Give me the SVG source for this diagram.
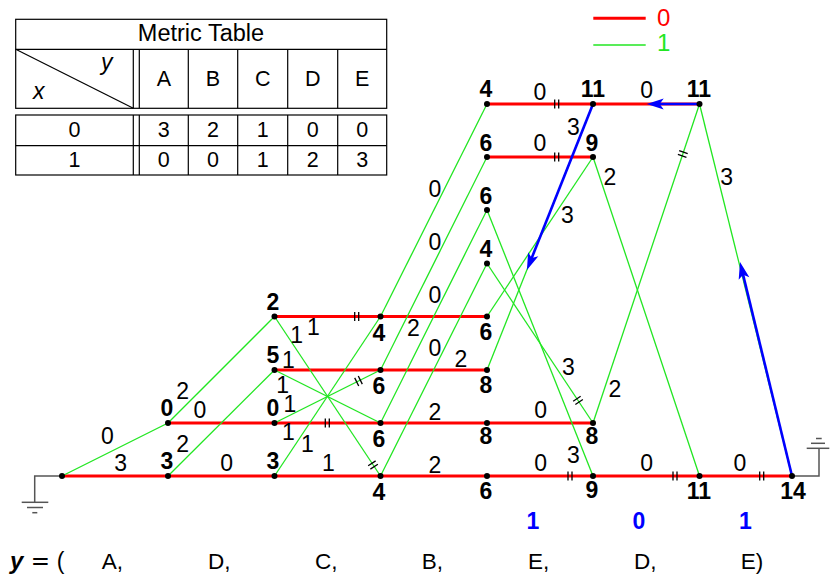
<svg xmlns="http://www.w3.org/2000/svg" width="831" height="574" viewBox="0 0 831 574">
<style>
.tb{fill:none;stroke:#000;stroke-width:1.2}
.tt{font:21.5px "Liberation Sans",Arial,sans-serif;text-anchor:middle;fill:#000}
.ti{font:italic 23px "Liberation Sans",Arial,sans-serif;fill:#000}
.r{stroke:#ff0000;stroke-width:3;fill:none}
.g{stroke:#22e622;stroke-width:1.3;fill:none}
.b{stroke:#0000ff;stroke-width:2.6;fill:none;marker-end:url(#ah)}
.gr{stroke:#555;stroke-width:1.5;fill:none}
.v{font:bold 23px "Liberation Sans",Arial,sans-serif;text-anchor:middle;fill:#000}
.l{font:23px "Liberation Sans",Arial,sans-serif;text-anchor:middle;fill:#000}
.bb{font:bold 23px "Liberation Sans",Arial,sans-serif;text-anchor:middle;fill:#0000ff}
.s{font:22.5px "Liberation Sans",Arial,sans-serif;fill:#000}
.mk{stroke:#000;stroke-width:1.3}
</style>
<defs>
<marker id="ah" markerUnits="userSpaceOnUse" markerWidth="22" markerHeight="14" viewBox="-10 -7 22 14" refX="0" refY="0" orient="auto">
<path d="M8,0 L-9,-5.5 L-5,0 L-9,5.5 Z" fill="#0000ff"/>
</marker>
<g id="pm"><line class="mk" x1="-2" y1="-4.5" x2="-2" y2="4.5"/><line class="mk" x1="2" y1="-4.5" x2="2" y2="4.5"/></g>
</defs>
<rect width="831" height="574" fill="#fff"/>

<g id="table">
<rect class="tb" x="15.7" y="19.3" width="371" height="89"/>
<line class="tb" x1="15.7" y1="49.3" x2="386.7" y2="49.3"/>
<line class="tb" x1="15.7" y1="49.3" x2="133.3" y2="108.3"/>
<line class="tb" x1="133.3" y1="49.3" x2="133.3" y2="108.3"/>
<line class="tb" x1="139.3" y1="49.3" x2="139.3" y2="108.3"/>
<line class="tb" x1="188.3" y1="49.3" x2="188.3" y2="108.3"/>
<line class="tb" x1="237.7" y1="49.3" x2="237.7" y2="108.3"/>
<line class="tb" x1="287.7" y1="49.3" x2="287.7" y2="108.3"/>
<line class="tb" x1="337.7" y1="49.3" x2="337.7" y2="108.3"/>
<rect class="tb" x="15.7" y="115" width="371" height="60"/>
<line class="tb" x1="15.7" y1="145.7" x2="386.7" y2="145.7"/>
<line class="tb" x1="133.3" y1="115" x2="133.3" y2="175"/>
<line class="tb" x1="139.3" y1="115" x2="139.3" y2="175"/>
<line class="tb" x1="188.3" y1="115" x2="188.3" y2="175"/>
<line class="tb" x1="237.7" y1="115" x2="237.7" y2="175"/>
<line class="tb" x1="287.7" y1="115" x2="287.7" y2="175"/>
<line class="tb" x1="337.7" y1="115" x2="337.7" y2="175"/>
<text class="tt" x="201" y="41" style="font-size:23.5px">Metric Table</text>
<text class="ti" x="101" y="70">y</text>
<text class="ti" x="33" y="99">x</text>
<text class="tt" x="163.8" y="86">A</text>
<text class="tt" x="213" y="86">B</text>
<text class="tt" x="262.7" y="86">C</text>
<text class="tt" x="312.7" y="86">D</text>
<text class="tt" x="362.2" y="86">E</text>
<text class="tt" x="74.5" y="137">0</text>
<text class="tt" x="163.8" y="137">3</text>
<text class="tt" x="213" y="137">2</text>
<text class="tt" x="262.7" y="137">1</text>
<text class="tt" x="312.7" y="137">0</text>
<text class="tt" x="362.2" y="137">0</text>
<text class="tt" x="74.5" y="167">1</text>
<text class="tt" x="163.8" y="167">0</text>
<text class="tt" x="213" y="167">0</text>
<text class="tt" x="262.7" y="167">1</text>
<text class="tt" x="312.7" y="167">2</text>
<text class="tt" x="362.2" y="167">3</text>
</g>

<g id="legend">
<line class="r" x1="593.3" y1="18.3" x2="645.7" y2="18.3"/>
<text class="s" x="657" y="25.5" style="fill:#ff0000;font-size:24px">0</text>
<line class="g" x1="593.3" y1="45" x2="645.7" y2="45"/>
<text class="s" x="657" y="51" style="fill:#22e622;font-size:24px">1</text>
</g>

<g id="grounds">
<polyline class="gr" points="62,476 34.7,476 34.7,502.3"/>
<line class="gr" x1="21.7" y1="502.3" x2="48.3" y2="502.3"/>
<line class="gr" x1="27" y1="507.5" x2="43" y2="507.5"/>
<line class="gr" x1="32.3" y1="512.7" x2="37.3" y2="512.7"/>
<polyline class="gr" points="792,476 819,476 819,448.3"/>
<line class="gr" x1="806.7" y1="448.3" x2="829.3" y2="448.3"/>
<line class="gr" x1="811" y1="443.3" x2="825" y2="443.3"/>
<line class="gr" x1="816" y1="438.5" x2="821.7" y2="438.5"/>
</g>

<g id="connectors">
<line class="r" x1="62" y1="476" x2="168" y2="476"/>
<line class="r" x1="168" y1="476" x2="274.5" y2="476"/>
<line class="r" x1="168" y1="423" x2="274.5" y2="423"/>
<line class="r" x1="274.5" y1="476" x2="380.5" y2="476"/>
<line class="r" x1="274.5" y1="423" x2="380.5" y2="423"/>
<line class="r" x1="274.5" y1="370" x2="380.5" y2="370"/>
<line class="r" x1="274.5" y1="316.5" x2="380.5" y2="316.5"/>
<line class="r" x1="380.5" y1="476" x2="487" y2="476"/>
<line class="r" x1="380.5" y1="423" x2="487" y2="423"/>
<line class="r" x1="380.5" y1="370" x2="487" y2="370"/>
<line class="r" x1="380.5" y1="316.5" x2="487" y2="316.5"/>
<line class="r" x1="487" y1="476" x2="593" y2="476"/>
<line class="r" x1="487" y1="423" x2="593" y2="423"/>
<line class="r" x1="487" y1="157" x2="593" y2="157"/>
<line class="r" x1="487" y1="104" x2="593" y2="104"/>
<line class="r" x1="593" y1="476" x2="699.5" y2="476"/>
<line class="r" x1="593" y1="104" x2="699.5" y2="104"/>
<line class="r" x1="699.5" y1="476" x2="792" y2="476"/>

<line class="g" x1="62" y1="476" x2="168" y2="423"/>
<line class="g" x1="168" y1="476" x2="274.5" y2="370"/>
<line class="g" x1="168" y1="423" x2="274.5" y2="316.5"/>
<line class="g" x1="274.5" y1="476" x2="380.5" y2="316.5"/>
<line class="g" x1="274.5" y1="423" x2="380.5" y2="370"/>
<line class="g" x1="274.5" y1="370" x2="380.5" y2="423"/>
<line class="g" x1="274.5" y1="316.5" x2="380.5" y2="476"/>
<line class="g" x1="380.5" y1="476" x2="487" y2="263.5"/>
<line class="g" x1="380.5" y1="423" x2="487" y2="210"/>
<line class="g" x1="380.5" y1="370" x2="487" y2="157"/>
<line class="g" x1="380.5" y1="316.5" x2="487" y2="104"/>
<line class="g" x1="487" y1="210" x2="593" y2="476"/>
<line class="g" x1="487" y1="263.5" x2="593" y2="423"/>
<line class="g" x1="487" y1="316.5" x2="593" y2="157"/>
<line class="g" x1="487" y1="370" x2="593" y2="104"/>
<line class="g" x1="593" y1="157" x2="699.5" y2="476"/>
<line class="g" x1="593" y1="423" x2="699.5" y2="104"/>
<line class="g" x1="699.5" y1="104" x2="792" y2="476"/>

<use href="#pm" transform="translate(356.7,316.5)"/>
<use href="#pm" transform="translate(327.3,423)"/>
<use href="#pm" transform="translate(358.5,381) rotate(-26.57)"/>
<use href="#pm" transform="translate(373,465) rotate(56.4)"/>
<use href="#pm" transform="translate(556.7,104)"/>
<use href="#pm" transform="translate(556.7,157)"/>
<use href="#pm" transform="translate(578,400.4) rotate(56.4)"/>
<use href="#pm" transform="translate(570,476)"/>
<use href="#pm" transform="translate(675,476)"/>
<use href="#pm" transform="translate(682.8,154) rotate(-71.5)"/>
<use href="#pm" transform="translate(761.7,476)"/>

<line class="b" x1="792" y1="476" x2="741.9" y2="269.8"/>
<line class="b" x1="699.5" y1="104" x2="654.7" y2="104"/>
<line class="b" x1="593" y1="104" x2="529.9" y2="262.6"/>

<text class="l" x="107.5" y="444">0</text>
<text class="l" x="120.7" y="471">3</text>
<text class="l" x="182.7" y="399">2</text>
<text class="l" x="182.7" y="452">2</text>
<text class="l" x="200" y="418">0</text>
<text class="l" x="226.7" y="471">0</text>
<text class="l" x="296.7" y="343">1</text>
<text class="l" x="313.3" y="335">1</text>
<text class="l" x="288.3" y="368">1</text>
<text class="l" x="282.7" y="393">1</text>
<text class="l" x="290" y="412">1</text>
<text class="l" x="288.3" y="440">1</text>
<text class="l" x="307.3" y="452">1</text>
<text class="l" x="328.3" y="471">1</text>
<text class="l" x="413.3" y="336">2</text>
<text class="l" x="435" y="197">0</text>
<text class="l" x="435" y="250">0</text>
<text class="l" x="435" y="303">0</text>
<text class="l" x="435" y="356">0</text>
<text class="l" x="461" y="367">2</text>
<text class="l" x="435" y="420">2</text>
<text class="l" x="435" y="473">2</text>
<text class="l" x="540" y="100">0</text>
<text class="l" x="540" y="151">0</text>
<text class="l" x="573.3" y="135">3</text>
<text class="l" x="567.3" y="223">3</text>
<text class="l" x="568.3" y="375">3</text>
<text class="l" x="540.7" y="418">0</text>
<text class="l" x="573.3" y="463">3</text>
<text class="l" x="540.7" y="471">0</text>
<text class="l" x="646.7" y="98">0</text>
<text class="l" x="610" y="185">2</text>
<text class="l" x="615" y="397">2</text>
<text class="l" x="646.7" y="471">0</text>
<text class="l" x="726.7" y="185">3</text>
<text class="l" x="740" y="471">0</text>
</g>

<g id="nodes" fill="#000">
<g id="n0_0"><circle cx="62" cy="476" r="3"/></g>
<g id="n1_0"><circle cx="168" cy="476" r="3"/><text class="v" x="167" y="469">3</text></g>
<g id="n1_1"><circle cx="168" cy="423" r="3"/><text class="v" x="167" y="416">0</text></g>
<g id="n2_0"><circle cx="274.5" cy="476" r="3"/><text class="v" x="273" y="469">3</text></g>
<g id="n2_1"><circle cx="274.5" cy="423" r="3"/><text class="v" x="273" y="416">0</text></g>
<g id="n2_2"><circle cx="274.5" cy="370" r="3"/><text class="v" x="273" y="363">5</text></g>
<g id="n2_3"><circle cx="274.5" cy="316.5" r="3"/><text class="v" x="273" y="310">2</text></g>
<g id="n3_0"><circle cx="380.5" cy="476" r="3"/><text class="v" x="379" y="500">4</text></g>
<g id="n3_1"><circle cx="380.5" cy="423" r="3"/><text class="v" x="379" y="447">6</text></g>
<g id="n3_2"><circle cx="380.5" cy="370" r="3"/><text class="v" x="379" y="394">6</text></g>
<g id="n3_3"><circle cx="380.5" cy="316.5" r="3"/><text class="v" x="379" y="341">4</text></g>
<g id="n4_0"><circle cx="487" cy="476" r="3"/><text class="v" x="486" y="499">6</text></g>
<g id="n4_1"><circle cx="487" cy="423" r="3"/><text class="v" x="486" y="444">8</text></g>
<g id="n4_2"><circle cx="487" cy="370" r="3"/><text class="v" x="486" y="393">8</text></g>
<g id="n4_3"><circle cx="487" cy="316.5" r="3"/><text class="v" x="486" y="340">6</text></g>
<g id="n4_4"><circle cx="487" cy="263.5" r="3"/><text class="v" x="486" y="257">4</text></g>
<g id="n4_5"><circle cx="487" cy="210" r="3"/><text class="v" x="486" y="204">6</text></g>
<g id="n4_6"><circle cx="487" cy="157" r="3"/><text class="v" x="486" y="151">6</text></g>
<g id="n4_7"><circle cx="487" cy="104" r="3"/><text class="v" x="486" y="97">4</text></g>
<g id="n5_0"><circle cx="593" cy="476" r="3"/><text class="v" x="592" y="498">9</text></g>
<g id="n5_1"><circle cx="593" cy="423" r="3"/><text class="v" x="592" y="444">8</text></g>
<g id="n5_6"><circle cx="593" cy="157" r="3"/><text class="v" x="592" y="151">9</text></g>
<g id="n5_7"><circle cx="593" cy="104" r="3"/><text class="v" x="593" y="97">11</text></g>
<g id="n6_0"><circle cx="699.5" cy="476" r="3"/><text class="v" x="699" y="499">11</text></g>
<g id="n6_7"><circle cx="699.5" cy="104" r="3"/><text class="v" x="699" y="97">11</text></g>
<g id="n7_0"><circle cx="792" cy="476" r="3"/><text class="v" x="793" y="499">14</text></g>
</g>

<g id="decoded">
<text class="bb" x="533" y="529">1</text>
<text class="bb" x="639" y="529">0</text>
<text class="bb" x="745.5" y="529">1</text>
</g>

<g id="sequence">
<text x="10" y="569" style="font:bold italic 24px 'Liberation Sans',Arial,sans-serif">y</text>
<text x="40.5" y="569" style="font:23px 'DejaVu Sans',sans-serif;text-anchor:middle">=</text>
<text x="60.7" y="569" style="font:23px 'Liberation Sans',Arial,sans-serif;text-anchor:middle">(</text>
<text class="s" x="101.7" y="569">A,</text>
<text class="s" x="208" y="569">D,</text>
<text class="s" x="315" y="569">C,</text>
<text class="s" x="421.7" y="569">B,</text>
<text class="s" x="528" y="569">E,</text>
<text class="s" x="634" y="569">D,</text>
<text class="s" x="740.7" y="569">E)</text>
</g>
</svg>
